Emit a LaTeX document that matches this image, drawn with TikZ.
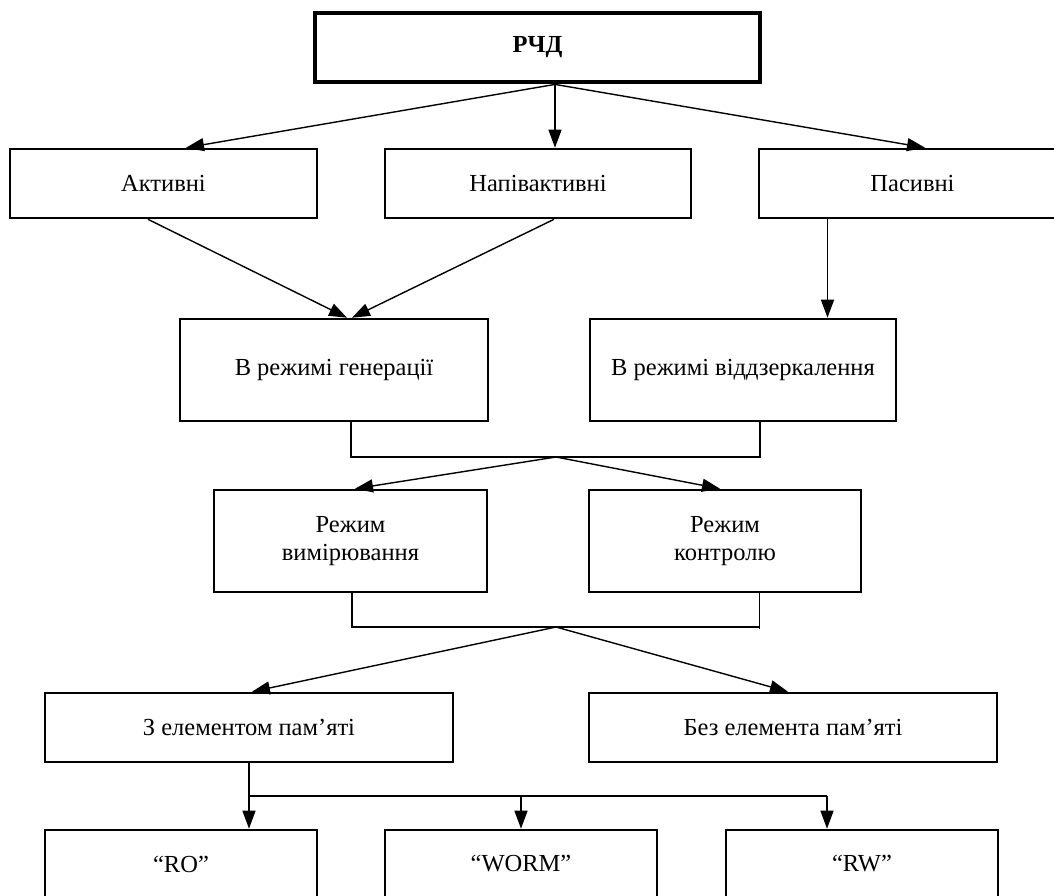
\documentclass[tikz,border=0pt]{standalone}
\usepackage{fontspec}
\setmainfont{Liberation Serif}
\usetikzlibrary{arrows.meta}
\begin{document}
\begin{tikzpicture}[x=1pt,y=-1pt,
  box/.style={draw, line width=2.6pt, rectangle, inner sep=0pt, align=center,
    font=\fontsize{24.5}{28.5}\selectfont},
  conn/.style={line width=1.4pt},
  arr/.style={line width=1.4pt, -{Triangle[length=18pt,width=13pt]}}]
\useasboundingbox (0,0) rectangle (1054,895);
\clip (0,0) rectangle (1054,895);
% nodes
\node[box, line width=4.8pt, minimum width=445pt, minimum height=69pt, font=\fontsize{24.5}{28}\selectfont\bfseries] (rchd) at (537.5,47.5) {РЧД};
\node[box, minimum width=307pt, minimum height=69pt] (akt) at (163.5,183.5) {Активні};
\node[box, minimum width=306pt, minimum height=69pt] (napiv) at (538,183.5) {Напівактивні};
\node[box, minimum width=307pt, minimum height=69pt] (pas) at (912.5,183.5) {Пасивні};
\node[box, minimum width=308pt, minimum height=102pt] (gen) at (334,370) {В режимі генерації};
\node[box, minimum width=306pt, minimum height=102pt] (vid) at (743,370) {В режимі віддзеркалення};
\node[box, minimum width=273pt, minimum height=102pt] (vym) at (350.5,541) {Режим\\вимірювання};
\node[box, minimum width=272pt, minimum height=102pt] (kontr) at (725,541) {Режим\\контролю};
\node[box, minimum width=408pt, minimum height=69pt] (zel) at (249,727.5) {З елементом пам’яті};
\node[box, minimum width=408pt, minimum height=69pt] (bez) at (793,727.5) {Без елемента пам’яті};
\node[box, minimum width=272pt, minimum height=68pt] (ro) at (181,864) {“RO”};
\node[box, minimum width=272pt, minimum height=68pt] (worm) at (521,864) {“WORM”};
\node[box, minimum width=272pt, minimum height=68pt] (rw) at (862,864) {“RW”};
% junction coordinates
\coordinate (t) at ([xshift=17.5pt]rchd.south);
\coordinate (j1) at (556,457);
\coordinate (j2) at (556,627);
\coordinate (b3) at (249,796);
\coordinate (rwin) at ([xshift=-35pt]rw.north);
% top level arrows
\draw[arr] (t) -- ([xshift=22.5pt]akt.north);
\draw[arr] (t) -- ([xshift=17pt]napiv.north);
\draw[arr] (t) -- ([xshift=12.5pt]pas.north);
% second level
\draw[arr] ([xshift=-15.5pt]akt.south) -- ([xshift=13pt]gen.north);
\draw[arr] ([xshift=16pt]napiv.south) -- ([xshift=18pt]gen.north);
\draw[arr] ([xshift=-85pt]pas.south) -- ([xshift=-85pt]pas.south |- vid.north);
% bus 1
\draw[conn] ([xshift=17pt]gen.south) -- ([xshift=17pt]gen.south |- j1) -- ([xshift=17pt]vid.south |- j1) -- ([xshift=17pt]vid.south);
\draw[arr] (j1) -- ([xshift=4.5pt]vym.north);
\draw[arr] (j1) -- ([xshift=-5pt]kontr.north);
% bus 2
\draw[conn] ([xshift=1.5pt]vym.south) -- ([xshift=1.5pt]vym.south |- j2) -- ([xshift=34pt]kontr.south |- j2);
\draw[line width=1pt] ([xshift=34pt]kontr.south) -- ([xshift=34pt,yshift=-1.5pt]kontr.south |- j2);
\draw[arr] (j2) -- ([xshift=3pt]zel.north);
\draw[arr] (j2) -- ([xshift=-5pt]bez.north);
% bus 3
\draw[arr] (zel.south) -- ([xshift=68pt]ro.north);
\draw[conn] (b3) -- (b3 -| rwin);
\draw[arr] (b3 -| worm.north) -- (worm.north);
\draw[arr] (b3 -| rwin) -- (rwin);
\end{tikzpicture}
\end{document}
